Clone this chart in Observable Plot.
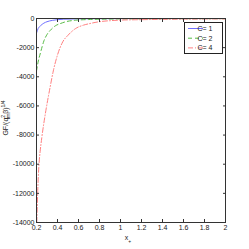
<!DOCTYPE html>
<html><head><meta charset="utf-8">
<script src="https://cdn.jsdelivr.net/npm/d3@7"></script>
<script src="https://cdn.jsdelivr.net/npm/@observablehq/plot@0.6"></script>
<style>body{margin:0;background:#fff}#c{position:relative;width:249px;height:249px}</style>
</head><body><div id="c"></div>
<script>
const seriesNames = ["C= 1", "C= 2", "C= 4"];
const xC1 = [0.2, 0.215, 0.238, 0.27, 0.3, 0.35, 0.4, 0.46, 0.6, 0.8, 1.0, 1.5, 2.0];
const yC1 = [-1000, -700, -500, -320, -220, -130, -80, -50, -25, -12, -8, -4, -2];
const xC2 = [0.2, 0.215, 0.238, 0.27, 0.3, 0.333, 0.38, 0.43, 0.48, 0.57, 0.7, 0.8, 1.0, 1.5, 2.0];
const yC2 = [-3600, -3000, -2350, -1550, -1100, -800, -500, -340, -220, -120, -70, -50, -30, -15, -10];
const xC4 = [0.203, 0.212, 0.222, 0.235, 0.25, 0.285, 0.33, 0.36, 0.4, 0.45, 0.5, 0.57, 0.65, 0.7, 0.8, 0.9, 1.0, 1.2, 1.4, 1.6, 1.8, 2.0];
const yC4 = [-14000, -11800, -10200, -9100, -8200, -6500, -4700, -3600, -2500, -1600, -1150, -700, -450, -360, -220, -150, -110, -80, -60, -45, -35, -30];
const xTicks = [0.2, 0.4, 0.6, 0.8, 1, 1.2, 1.4, 1.6, 1.8, 2];
const yTicks = [0, -2000, -4000, -6000, -8000, -10000, -12000, -14000];
const colors = ["#6f6fff", "#55bb44", "#ff8080"];
const dashes = [null, "4,3", "5,2,1,2"];

const mk = (xs, ys, s) => xs.map((x, i) => ({x, y: ys[i], s}));
const series = [mk(xC1, yC1, 0), mk(xC2, yC2, 1), mk(xC4, yC4, 2)];

const font = "Liberation Sans, Arial, sans-serif";
const xFmt = d => String(d);
const yFmt = d => d === 0 ? "0" : "-" + Math.abs(d);
const plot = Plot.plot({
  width: 249, height: 249,
  marginLeft: 36, marginRight: 24, marginTop: 18, marginBottom: 27,
  style: {fontFamily: font, fontSize: "7px", background: "#fff", color: "#222"},
  x: {domain: [0.2, 2], label: null},
  y: {domain: [-14000, 0], label: null},
  marks: [
    ...series.map((d, i) => Plot.line(d, {x: "x", y: "y", stroke: colors[i], strokeWidth: 1, strokeDasharray: dashes[i], clip: true, curve: "monotone-x"})),
    Plot.axisX({anchor: "bottom", ticks: xTicks, tickFormat: xFmt, tickSize: -3, tickPadding: 6, stroke: "#333", label: null}),
    Plot.axisX({anchor: "top", ticks: xTicks, tickSize: -3, text: null, stroke: "#333", label: null}),
    Plot.axisY({anchor: "left", ticks: yTicks, tickFormat: yFmt, tickSize: -3, tickPadding: 5, stroke: "#333", label: null}),
    Plot.axisY({anchor: "right", ticks: yTicks, tickSize: -3, text: null, stroke: "#333", label: null}),
    Plot.frame({stroke: "#333", strokeWidth: 1})
  ]
});
document.getElementById("c").appendChild(plot);

// legend and axis labels
const svg = d3.select(plot);
const lg = svg.append("g");
lg.append("rect").attr("x", 184.5).attr("y", 22.5).attr("width", 38).attr("height", 31)
  .attr("fill", "#fff").attr("stroke", "#222").attr("stroke-width", 1);
seriesNames.forEach((n, i) => {
  const yy = 28.5 + i * 9.7;
  lg.append("line").attr("x1", 188).attr("x2", 203).attr("y1", yy).attr("y2", yy)
    .attr("stroke", colors[i]).attr("stroke-width", 1).attr("stroke-dasharray", dashes[i]);
  lg.append("text").attr("x", 205).attr("y", yy).attr("dy", "0.35em")
    .attr("font-size", 7).attr("font-family", font).attr("fill", "#222").text(n);
});
const yl = svg.append("text").attr("transform", "translate(8,118) rotate(-90)")
  .attr("text-anchor", "middle").attr("font-size", 7).attr("font-family", font).attr("fill", "#222");
yl.append("tspan").text("GF/(q");
yl.append("tspan").attr("font-size", 5).attr("dy", -3).text("2");
yl.append("tspan").attr("font-size", 5).attr("dx", -3).attr("dy", 5).text("m");
yl.append("tspan").attr("dy", -2).text("β)");
yl.append("tspan").attr("font-size", 5).attr("dy", -3).text("1/4");
const xl = svg.append("text").attr("x", 128).attr("y", 240)
  .attr("font-size", 7).attr("font-family", font).attr("fill", "#222");
xl.append("tspan").text("x");
xl.append("tspan").attr("font-size", 5).attr("dy", 3).text("+");
</script>
</body></html>
